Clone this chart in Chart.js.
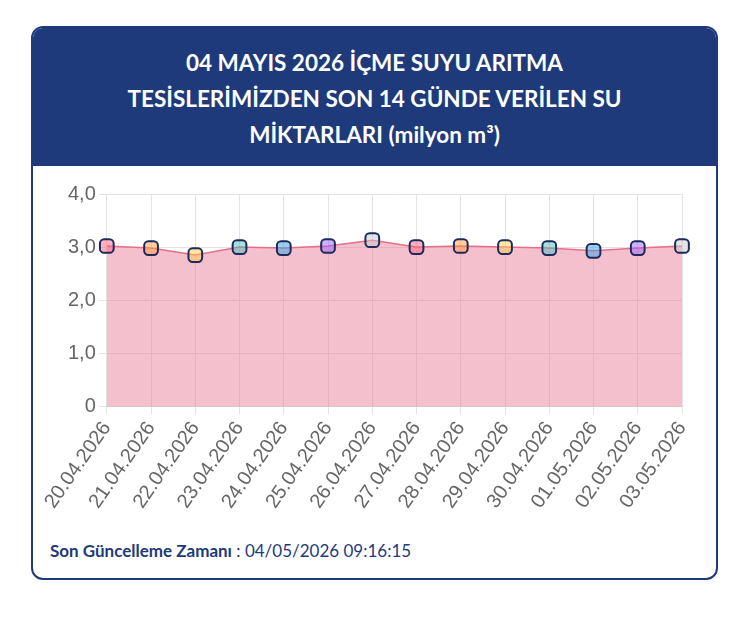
<!DOCTYPE html>
<html>
<head>
<meta charset="utf-8">
<script src="https://cdn.jsdelivr.net/npm/chart.js@4"></script>
<style>
  body { margin: 0; background: #fff; font-family: Lato, "Open Sans", sans-serif; }
  .card { position: absolute; left: 31px; top: 26px; width: 687px; height: 554px; border: 2px solid #1e3a7b; border-radius: 12px; overflow: hidden; box-sizing: border-box; }
  .head { background: #1e3a7b; color: #fff; height: 138px; box-sizing: border-box; padding-top: 17px; text-align: center; font-weight: bold; font-size: 22.5px; line-height: 36px; }
  .wrap { position: absolute; left: 0; top: 138px; width: 683px; height: 350px; }
  .foot { position: absolute; left: 17px; top: 512px; color: #1e3a7b; font-size: 17px; }
</style>
</head>
<body>
<div class="card">
  <div class="head">04 MAYIS 2026 İÇME SUYU ARITMA<br>TESİSLERİMİZDEN SON 14 GÜNDE VERİLEN SU<br>MİKTARLARI (milyon m³)</div>
  <div class="wrap"><canvas id="c"></canvas></div>
  <div class="foot"><b>Son Güncelleme Zamanı</b> : 04/05/2026 09:16:15</div>
</div>
<script>
const dates = ['20.04.2026','21.04.2026','22.04.2026','23.04.2026','24.04.2026','25.04.2026','26.04.2026','27.04.2026','28.04.2026','29.04.2026','30.04.2026','01.05.2026','02.05.2026','03.05.2026'];
const amounts = [3.02, 2.98, 2.85, 3.0, 2.98, 3.02, 3.13, 3.0, 3.02, 3.0, 2.98, 2.93, 2.98, 3.02];
const markerColors = ['rgba(255,99,132,0.5)','rgba(255,159,64,0.5)','rgba(255,205,86,0.5)','rgba(75,192,192,0.5)','rgba(54,162,235,0.5)','rgba(153,102,255,0.5)','rgba(201,203,207,0.5)'];

new Chart(document.getElementById('c'), {
  type: 'line',
  data: {
    labels: dates,
    datasets: [{
      data: amounts,
      borderColor: 'rgba(230,100,125,0.9)',
      borderWidth: 1.5,
      backgroundColor: 'rgba(235,130,155,0.5)',
      fill: true,
      tension: 0,
      pointStyle: 'rectRounded',
      pointRadius: 8,
      pointBorderWidth: 2,
      pointBorderColor: '#1e2b5a',
      pointBackgroundColor: amounts.map((_, i) => markerColors[i % markerColors.length])
    }]
  },
  options: {
    responsive: true,
    maintainAspectRatio: false,
    animation: false,
    layout: { padding: { left: 32, right: 34, top: 28, bottom: 0 } },
    plugins: { legend: { display: false }, tooltip: { enabled: false } },
    scales: {
      y: {
        min: 0, max: 4,
        ticks: { stepSize: 1, color: '#666', font: { size: 20, family: 'Liberation Sans' },
          callback: v => v === 0 ? '0' : v.toFixed(1).replace('.', ',') },
        grid: { color: '#e3e3e3' },
        border: { display: false }
      },
      x: {
        ticks: { color: '#666', font: { size: 20, family: 'Liberation Sans' }, maxRotation: 55, minRotation: 55 },
        grid: { color: '#e3e3e3' }
      }
    }
  }
});
</script>
</body>
</html>
